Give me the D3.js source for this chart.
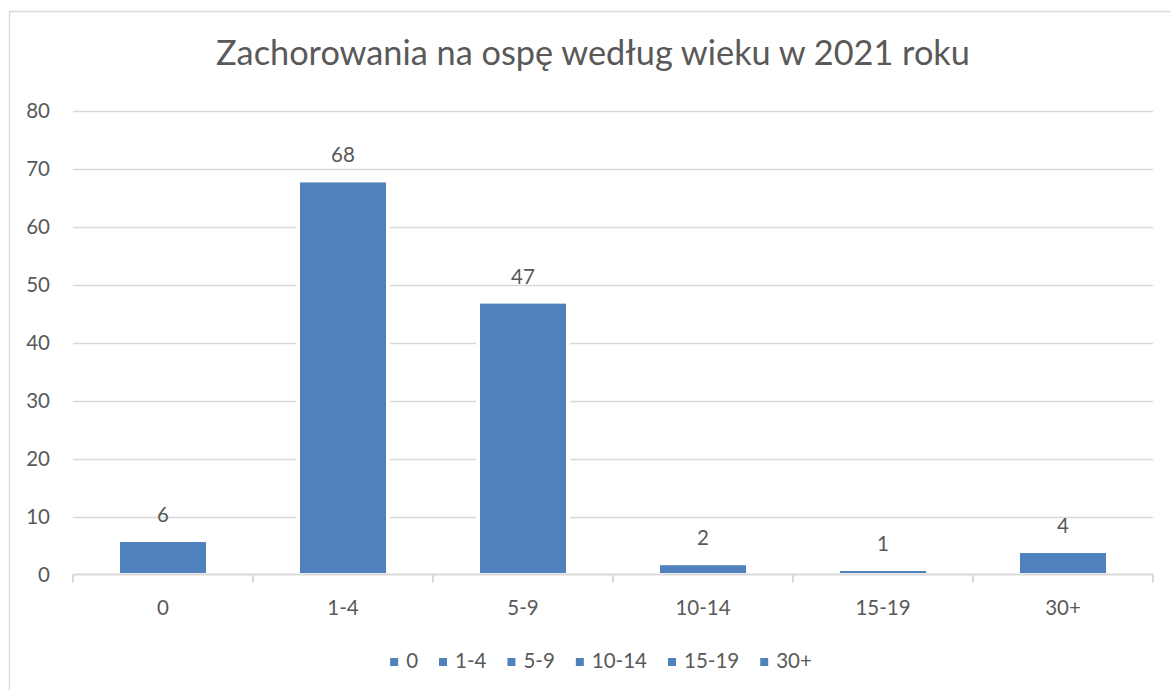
<!DOCTYPE html>
<html>
<head>
<meta charset="utf-8">
<script src="https://cdn.jsdelivr.net/npm/d3@7"></script>
<style>
  html, body { margin: 0; padding: 0; background: #fff; }
  svg { display: block; }
  text { font-family: Lato, "Open Sans", sans-serif; fill: #595959; }
</style>
</head>
<body>
<svg id="chart" width="1170" height="690"></svg>
<script>
const title = "Zachorowania na ospę według wieku w 2021 roku";
const categories = ["0", "1-4", "5-9", "10-14", "15-19", "30+"];
const values = [5.6, 67.6, 46.7, 1.6, 0.6, 3.7];
const yTicks = [0, 10, 20, 30, 40, 50, 60, 70, 80];

const W = 1170, H = 690;
const margin = { left: 73, right: 17, top: 110.5, bottom: 115.5 };
const barColor = "#4F81BD";
const gridColor = "#D9D9D9";
const labelSize = "20.5px";

const svg = d3.select("#chart");

// chart border
svg.append("path")
  .attr("d", `M9.5,${H + 5} V11.5 H${W + 5}`)
  .attr("fill", "none")
  .attr("stroke", gridColor)
  .attr("stroke-width", 1.3);

const x = d3.scaleBand()
  .domain(categories)
  .range([margin.left, W - margin.right])
  .paddingInner(0.522)
  .paddingOuter(0.261);

const y = d3.scaleLinear()
  .domain([0, 80])
  .range([H - margin.bottom, margin.top]);

// title
svg.append("text")
  .attr("x", 593)
  .attr("y", 65)
  .attr("text-anchor", "middle")
  .style("font-size", "34.3px")
  .text(title);

// gridlines
svg.append("g")
  .selectAll("line")
  .data(yTicks.filter(d => d !== 0))
  .join("line")
  .attr("x1", margin.left)
  .attr("x2", W - margin.right)
  .attr("y1", d => Math.round(y(d)) + 0.5)
  .attr("y2", d => Math.round(y(d)) + 0.5)
  .attr("stroke", gridColor)
  .attr("stroke-width", 1.5);

// y tick labels
const yAxis = d3.axisLeft(y).tickValues(yTicks).tickSize(0).tickPadding(0);
const yg = svg.append("g")
  .attr("transform", `translate(${margin.left - 23},0)`)
  .call(yAxis);
yg.select(".domain").remove();
yg.selectAll("text")
  .style("font-size", labelSize)
  .style("font-family", "Lato, 'Open Sans', sans-serif")
  .attr("fill", "#595959")
  .attr("dy", "0.35em");

// white halo behind bars (interrupts gridlines)
svg.append("g")
  .selectAll("rect")
  .data(values)
  .join("rect")
  .attr("x", (d, i) => x(categories[i]) - 4)
  .attr("y", d => y(d) - 4)
  .attr("width", x.bandwidth() + 8)
  .attr("height", d => y(0) - y(d) + 4)
  .attr("fill", "#fff");

// bars
svg.append("g")
  .selectAll("rect")
  .data(values)
  .join("rect")
  .attr("x", (d, i) => x(categories[i]))
  .attr("y", d => y(d))
  .attr("width", x.bandwidth())
  .attr("height", d => y(0) - y(d) - 1.5)
  .attr("fill", barColor);

// x axis
const xAxis = d3.axisBottom(x).tickSize(0).tickPadding(0);
const xg = svg.append("g")
  .attr("transform", `translate(0,${y(0)})`)
  .call(xAxis);
xg.select(".domain")
  .attr("stroke", gridColor)
  .attr("stroke-width", 2)
  .attr("d", `M${margin.left},0H${W - margin.right}`);
xg.selectAll(".tick text")
  .style("font-size", labelSize)
  .style("font-family", "Lato, 'Open Sans', sans-serif")
  .attr("fill", "#595959")
  .attr("y", 40)
  .attr("dy", 0);
// category boundary ticks
const boundaries = categories.map(c => x(c) - x.step() * x.paddingInner() / 2)
  .concat([W - margin.right]);
xg.append("g")
  .selectAll("line")
  .data(boundaries)
  .join("line")
  .attr("x1", d => d).attr("x2", d => d)
  .attr("y1", 0).attr("y2", 8)
  .attr("stroke", gridColor)
  .attr("stroke-width", 2);

// data labels
svg.append("g")
  .selectAll("text")
  .data(values)
  .join("text")
  .attr("x", (d, i) => x(categories[i]) + x.bandwidth() / 2)
  .attr("y", d => y(d) - 20)
  .attr("text-anchor", "middle")
  .style("font-size", labelSize)
  .text(d => Math.round(d));

// legend
const legend = svg.append("g");
let lx = 0;
categories.forEach((c, i) => {
  const g = legend.append("g").attr("transform", `translate(${lx},0)`);
  g.append("rect")
    .attr("x", 0).attr("y", -6)
    .attr("width", 8).attr("height", 8)
    .attr("fill", barColor);
  const t = g.append("text")
    .attr("x", 16).attr("y", 4)
    .style("font-size", labelSize)
    .text(c);
  const w = 16 + t.node().getComputedTextLength();
  lx += w + 21;
});
const legendWidth = lx - 21;
legend.attr("transform", `translate(${601 - legendWidth / 2},664)`);
</script>
</body>
</html>
